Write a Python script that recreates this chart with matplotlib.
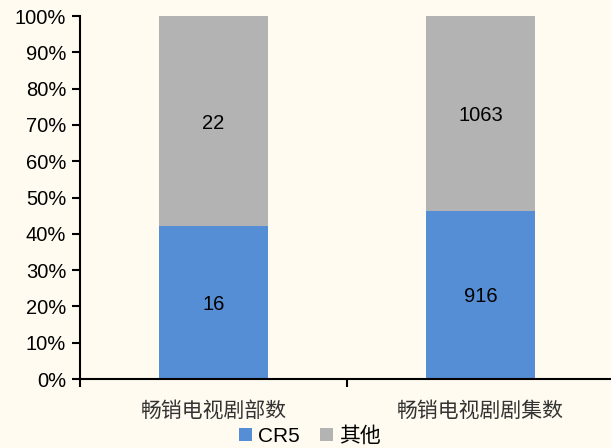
import matplotlib
matplotlib.use("Agg")
import matplotlib.pyplot as plt
from matplotlib.patches import Patch
import numpy as np

plt.rcParams['font.family'] = ['Liberation Sans', 'Noto Sans CJK SC', 'DejaVu Sans']

categories = ["畅销电视剧部数", "畅销电视剧剧集数"]
series_names = ["CR5", "其他"]
cr5 = [16, 916]
other = [22, 1063]
yticks = [0, 10, 20, 30, 40, 50, 60, 70, 80, 90, 100]

blue = "#558ED5"
gray = "#B3B3B3"
bg = "#FFFBF0"

W, H = 611, 448
fig = plt.figure(figsize=(W / 100, H / 100), dpi=100, facecolor=bg)
ax = fig.add_axes([80 / W, 1 - 379 / H, (614 - 80) / W, (379 - 16) / H])
ax.set_facecolor(bg)

cr5 = np.array(cr5, dtype=float)
other = np.array(other, dtype=float)
tot = cr5 + other
p1 = cr5 / tot * 100
p2 = other / tot * 100
x = np.arange(len(categories))
bw = 0.405
ax.bar(x, p1, width=bw, color=blue, zorder=2)
ax.bar(x, p2, width=bw, bottom=p1, color=gray, zorder=2)

for i in range(len(x)):
    ax.text(x[i], p1[i] / 2, f"{int(cr5[i])}", ha='center', va='center_baseline', fontsize=14.5, color='black')
    ax.text(x[i], p1[i] + p2[i] / 2, f"{int(other[i])}", ha='center', va='center_baseline', fontsize=14.5, color='black')

ax.set_xlim(-0.5, 1.5)
ax.set_ylim(0, 100)
ax.set_yticks(yticks)
ax.set_yticklabels([f"{t}%" for t in yticks], fontsize=14.5)
ax.set_xticks(x)
ax.set_xticklabels(categories, fontsize=15, family=['Noto Sans CJK SC'], color='#333333')
ax.set_xticks([-0.5, 0.5, 1.5], minor=True)
ax.tick_params(axis='x', which='major', length=0, pad=15)
ax.tick_params(axis='x', which='minor', length=6, width=1.5, direction='out')
ax.tick_params(axis='y', length=6, width=1.5, direction='out', pad=4)

for s in ['top', 'right']:
    ax.spines[s].set_visible(False)
for s in ['left', 'bottom']:
    ax.spines[s].set_linewidth(1.5)

handles = [Patch(facecolor=blue, edgecolor='none'), Patch(facecolor=gray, edgecolor='none')]
leg = fig.legend(handles, series_names, loc='center', bbox_to_anchor=(310 / W, 1 - 436 / H),
                 ncol=2, frameon=False, handlelength=0.6, handleheight=0.6,
                 handletextpad=0.3, columnspacing=1.0, borderpad=0,
                 prop={'family': ['Liberation Sans', 'Noto Sans CJK SC'], 'size': 15})

fig.savefig("out.png", dpi=100, facecolor=bg)
